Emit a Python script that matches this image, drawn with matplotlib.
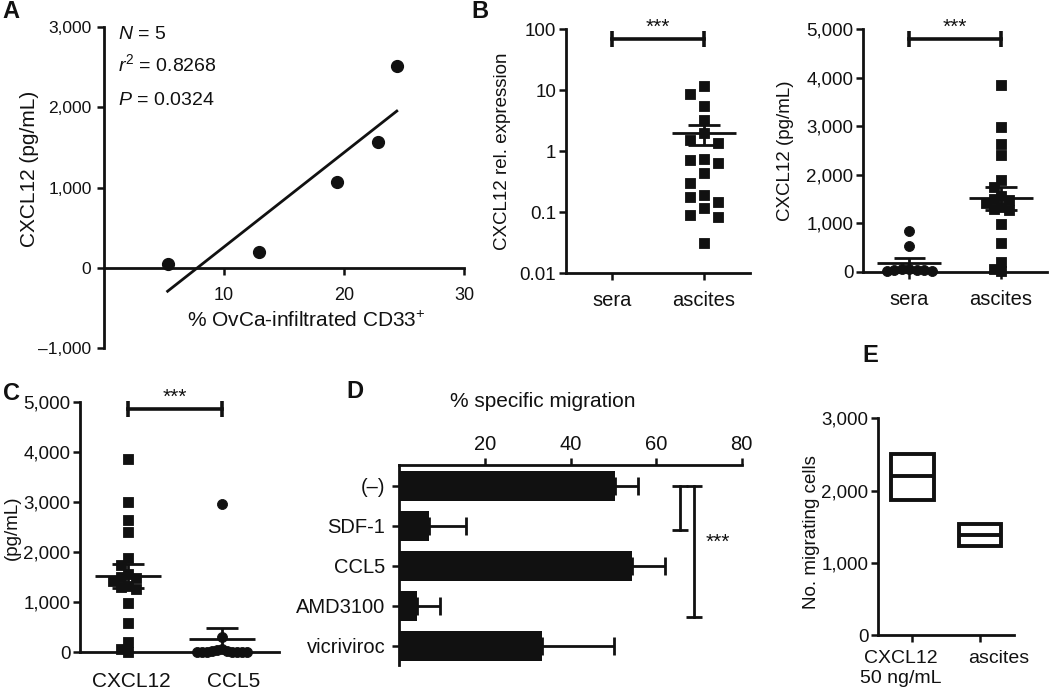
import numpy as np
import matplotlib
matplotlib.use("Agg")
import matplotlib.pyplot as plt
from matplotlib.ticker import NullLocator
from matplotlib.transforms import ScaledTranslation

# ---------------- data ----------------
a_pct_cd33 = [5.3, 12.9, 19.4, 22.8, 24.4]
a_cxcl12 = [46, 196, 1066, 1566, 2516]
a_stats = [r"$N$ = 5", r"$r^2$ = 0.8268", r"$P$ = 0.0324"]
a_xticks = [10, 20, 30]
a_yticks = [-1000, 0, 1000, 2000, 3000]

b_groups = ["sera", "ascites"]
b_rel_ascites = [11.6, 8.8, 5.5, 3.2, 2.0, 1.5, 1.37, 0.75, 0.64, 0.71, 0.43,
                 0.295, 0.19, 0.18, 0.148, 0.118, 0.089, 0.082, 0.031]
b_rel_yticks = [0.01, 0.1, 1, 10, 100]
b_rel_yticklabels = ["0.01", "0.1", "1", "10", "100"]
b_sera_pg = [845, 536, 10, 30, 20, 50, 40, 60, 30]
b_ascites_pg = [3860, 2990, 2640, 2410, 1890, 1750, 1560, 1500, 1480, 1420,
                1330, 1300, 1270, 990, 590, 200, 10, 60]
b_pg_yticks = [0, 1000, 2000, 3000, 4000, 5000]

c_groups = ["CXCL12", "CCL5"]
c_cxcl12 = b_ascites_pg
c_ccl5 = [2950, 300, 60, 40, 30, 20, 15, 10, 10, 5, 5, 0, 0]
c_yticks = [0, 1000, 2000, 3000, 4000, 5000]

d_conditions = ["(–)", "SDF-1", "CCL5", "AMD3100", "vicriviroc"]
d_migration = [50.3, 7.0, 54.3, 4.1, 33.4]
d_sem = [5.5, 8.5, 7.8, 5.5, 16.8]
d_xticks = [20, 40, 60, 80]

e_groups = ["CXCL12\n50 ng/mL", "ascites"]
e_min = [1870, 1237]
e_max = [2507, 1533]
e_mean = [2202, 1385]
e_yticks = [0, 1000, 2000, 3000]

# ---------------- style ----------------
plt.rcParams["font.family"] = ["Liberation Sans", "DejaVu Sans"]
plt.rcParams["mathtext.fontset"] = "custom"
plt.rcParams["mathtext.rm"] = "Liberation Sans"
plt.rcParams["mathtext.it"] = "Liberation Sans:italic"
plt.rcParams["mathtext.bf"] = "Liberation Sans:bold"

W, H = 1050, 698
fig = plt.figure(figsize=(W / 100, H / 100), dpi=100)
K = "#111111"
TICK_FS = 13.5
LAB_FS = 13.5
STAR_FS = 15
LW = 2.0


def axpx(l, t, r, b):
    return fig.add_axes([l / W, 1 - b / H, (r - l) / W, (b - t) / H])


def style(ax, fs=TICK_FS):
    for s in ax.spines.values():
        s.set_linewidth(LW)
        s.set_color(K)
    ax.spines[["top", "right"]].set_visible(False)
    ax.tick_params(width=1.8, length=5, direction="out", labelsize=fs,
                   color=K, labelcolor=K)


def fmt(v):
    return f"{v:,.0f}".replace("-", "–")


def shift_xlabels(ax, dx_px):
    for lab, dx in zip(ax.get_xticklabels(), dx_px):
        lab.set_transform(lab.get_transform() +
                          ScaledTranslation(dx / 100, 0, fig.dpi_scale_trans))


def swarm_offsets(ax, vals, step_px, thr_px):
    vals = np.asarray(vals, float)
    ypx = ax.transData.transform(np.column_stack([np.zeros_like(vals), vals]))[:, 1]
    order = np.argsort(-vals, kind="stable")
    cands = [0]
    for k in range(1, 25):
        cands += [-k, k]
    placed = []
    offs = np.zeros(len(vals))
    for i in order:
        for k in cands:
            x = k * step_px
            ok = all(not (abs(x - px) < step_px * 0.5 and abs(ypx[i] - py) < thr_px)
                     for px, py in placed)
            if ok:
                break
        placed.append((x, ypx[i]))
        offs[i] = x
    x01 = ax.transData.transform([[0, 0], [1, 0]])[:, 0]
    return offs / (x01[1] - x01[0])


def dots(ax, xc, vals, marker, ms, step_px, thr_px):
    offs = swarm_offsets(ax, vals, step_px, thr_px)
    ax.scatter(xc + offs, vals, marker=marker, s=ms ** 2, color=K,
               edgecolors=K, linewidths=0.6, clip_on=False, zorder=3)


def mean_sem(ax, xc, vals, lw=LW):
    v = np.asarray(vals, float)
    m = v.mean()
    s = v.std(ddof=1) / np.sqrt(len(v))
    kw = dict(color=K, lw=lw, solid_capstyle="butt", zorder=4, clip_on=False)
    ax.plot([xc - 0.35, xc + 0.35], [m, m], **kw)
    ax.plot([xc - 0.17, xc + 0.17], [m + s, m + s], **kw)
    ax.plot([xc - 0.17, xc + 0.17], [m - s, m - s], **kw)
    ax.plot([xc, xc], [m - s, m + s], **kw)


def bracket(ax, y, x0=0, x1=1):
    ax.plot([x0, x1], [y, y], color=K, lw=2.6, marker="|", ms=11, mew=2.6,
            clip_on=False, zorder=4)
    ax.annotate("***", xy=((x0 + x1) / 2, y), xytext=(0, 4.5),
                textcoords="offset points", ha="center", va="baseline",
                fontsize=STAR_FS, color=K)


# ---------------- panel A ----------------
axA = axpx(104, 27, 464, 348)
style(axA, 12.5)
axA.set_xlim(0, 30)
axA.set_ylim(-1000, 3000)
axA.spines["bottom"].set_position(("data", 0))
axA.set_xticks(a_xticks)
axA.set_yticks(a_yticks, [fmt(v) for v in a_yticks])
axA.tick_params(axis="x", pad=9, labelsize=13)
axA.tick_params(axis="y", pad=4)
axA.plot(a_pct_cd33, a_cxcl12, "o", color=K, ms=8.5, clip_on=False, zorder=3)
slope, icpt = np.polyfit(a_pct_cd33, a_cxcl12, 1)
xx = np.array([min(a_pct_cd33), max(a_pct_cd33)])
axA.plot(xx, slope * xx + icpt, color=K, lw=LW)
for s, yv in zip(a_stats, [2850, 2454, 2025]):
    axA.text(1.2, yv, s, fontsize=14, va="baseline", color=K)
axA.set_xlabel("% OvCa-infiltrated CD33$^{+}$", fontsize=15, color=K)
axA.xaxis.set_label_coords(0.561, (348 - 321) / 321)
axA.xaxis.label.set_va("center")
axA.set_ylabel("CXCL12 (pg/mL)", fontsize=15, color=K)
axA.yaxis.set_label_coords((30 - 104) / 360, (348 - 169) / 321)
axA.yaxis.label.set_va("center")

# ---------------- panel B left ----------------
axB1 = axpx(566, 29.3, 750, 273)
style(axB1)
axB1.set_yscale("log")
axB1.set_ylim(0.01, 100)
axB1.set_xlim(-0.5, 1.5)
axB1.set_yticks(b_rel_yticks, b_rel_yticklabels)
axB1.yaxis.set_minor_locator(NullLocator())
axB1.set_xticks([0, 1], b_groups)
axB1.tick_params(axis="y", pad=2)
axB1.tick_params(axis="x", pad=8, labelsize=14.5)
dots(axB1, 1, b_rel_ascites, "s", 7.0, 14, 12)
mean_sem(axB1, 1, b_rel_ascites)
bracket(axB1, 68.6)
axB1.set_ylabel("CXCL12 rel. expression", fontsize=LAB_FS, color=K)
axB1.yaxis.set_label_coords((502 - 566) / 184, 0.5)
axB1.yaxis.label.set_va("center")

# ---------------- panel B right ----------------
axB2 = axpx(863.3, 29.3, 1047, 271.7)
style(axB2)
axB2.set_ylim(0, 5000)
axB2.set_xlim(-0.5, 1.5)
axB2.set_yticks(b_pg_yticks, [fmt(v) for v in b_pg_yticks])
axB2.set_xticks([0, 1], b_groups)
axB2.tick_params(axis="y", pad=2)
axB2.tick_params(axis="x", pad=8, labelsize=14.5)
dots(axB2, 0, b_sera_pg, "o", 7.2, 7.5, 8.5)
dots(axB2, 1, b_ascites_pg, "s", 6.8, 7.5, 8.5)
mean_sem(axB2, 0, b_sera_pg)
mean_sem(axB2, 1, b_ascites_pg)
bracket(axB2, 4790)
axB2.set_ylabel("CXCL12 (pg/mL)", fontsize=LAB_FS, color=K)
axB2.yaxis.set_label_coords((785 - 863.3) / 183.7, 0.5)
axB2.yaxis.label.set_va("center")

# ---------------- panel C ----------------
axC = axpx(80, 401.7, 279, 652.3)
style(axC)
axC.set_ylim(0, 5000)
axC.set_xlim(-0.51, 1.6)
axC.set_yticks(c_yticks, [fmt(v) for v in c_yticks])
axC.set_xticks([0, 1], c_groups)
axC.tick_params(axis="y", pad=2)
axC.tick_params(axis="x", length=0, pad=14, labelsize=15)
shift_xlabels(axC, [3, 11])
dots(axC, 0, c_cxcl12, "s", 7.0, 7.5, 8.5)
dots(axC, 1, c_ccl5, "o", 7.2, 5, 8.5)
mean_sem(axC, 0, c_cxcl12)
mean_sem(axC, 1, c_ccl5)
bracket(axC, 4856)
axC.set_ylabel("(pg/mL)", fontsize=LAB_FS, color=K)
axC.yaxis.set_label_coords((12.5 - 80) / 199, (652.3 - 528) / 250.6)
axC.yaxis.label.set_va("center")

# ---------------- panel D ----------------
axD = axpx(399.4, 465, 741.7, 665)
for s in axD.spines.values():
    s.set_linewidth(LW)
    s.set_color(K)
axD.spines[["bottom", "right"]].set_visible(False)
axD.xaxis.tick_top()
axD.set_xlim(0, 80)
axD.set_ylim(4.48, -0.52)
yD = np.arange(len(d_conditions))
axD.barh(yD, d_migration, height=0.75, color=K, zorder=2)
axD.errorbar(d_migration, yD, xerr=[np.zeros(len(d_sem)), d_sem], fmt="none",
             ecolor=K, elinewidth=LW, capsize=6.8, capthick=LW, zorder=2)
axD.set_xticks(d_xticks)
axD.set_yticks(yD, d_conditions)
axD.tick_params(width=1.8, length=5, direction="out", labelsize=14.5, color=K,
                labelcolor=K)
axD.tick_params(axis="x", pad=3)
axD.tick_params(axis="y", pad=5)
axD.set_xlabel("% specific migration", fontsize=15, color=K)
axD.xaxis.set_label_position("top")
axD.xaxis.set_label_coords((543 - 399.4) / 342.3, (665 - 401.7) / 200)
axD.xaxis.label.set_va("center")
# significance brackets
for xb, y1 in [(65.6, 1.1), (68.9, 3.27)]:
    axD.plot([xb, xb], [0, y1], color=K, lw=LW, marker="_", ms=11, mew=LW,
             clip_on=False)
axD.text(71.5, 1.55, "***", fontsize=STAR_FS, color=K, ha="left",
         va="baseline")

# ---------------- panel E ----------------
axE = axpx(878.3, 418.3, 1014, 635)
style(axE)
axE.set_ylim(0, 3000)
axE.set_xlim(-0.5, 1.5)
xE = np.arange(len(e_groups))
heights = np.array(e_max) - np.array(e_min)
axE.bar(xE, heights, bottom=e_min, width=0.63, fill=False, edgecolor=K,
        linewidth=2.8)
for xi, m in zip(xE, e_mean):
    axE.plot([xi - 0.315, xi + 0.315], [m, m], color=K, lw=2.8,
             solid_capstyle="butt")
axE.set_yticks(e_yticks, [fmt(v) for v in e_yticks])
axE.set_xticks(xE, e_groups)
axE.tick_params(axis="y", pad=2)
axE.tick_params(axis="x", pad=6, labelsize=14)
shift_xlabels(axE, [-11, 19])
axE.set_ylabel("No. migrating cells", fontsize=LAB_FS, color=K)
axE.yaxis.set_label_coords((812 - 878.3) / 135.7, (635 - 532) / 216.7)
axE.yaxis.label.set_va("center")

# ---------------- panel letters ----------------
for lt, (px, py) in zip("ABCDE", [(11, 12), (480, 12), (11, 394), (355, 392),
                                  (870, 356)]):
    fig.text(px / W, 1 - py / H, lt, fontsize=17, fontweight="bold",
             ha="center", va="center", color=K)

fig.savefig("out.png", dpi=100)
